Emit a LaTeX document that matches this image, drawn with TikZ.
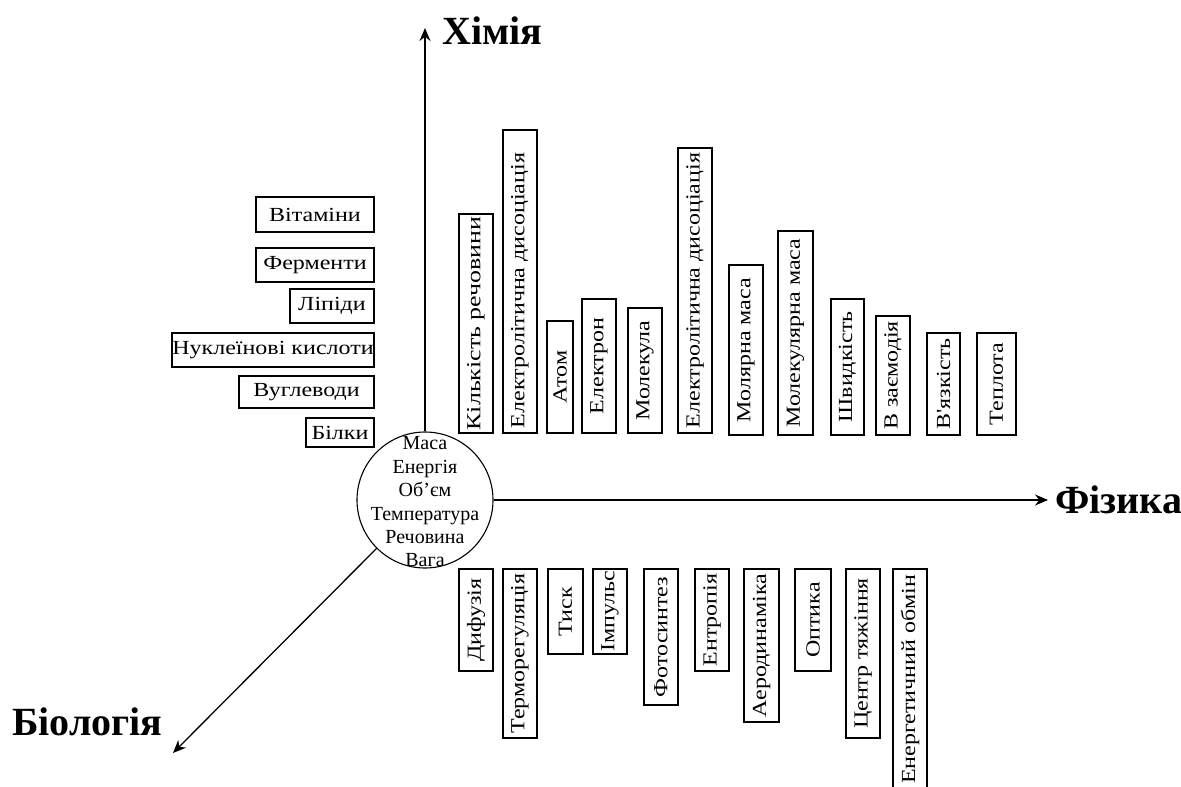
\documentclass[tikz,border=0pt]{standalone}
\usepackage{fontspec}
\setmainfont{Liberation Serif}
\newfontfamily\boxfont[FakeStretch=1.2]{Liberation Serif}
\usetikzlibrary{arrows.meta}
\tikzset{
  boxtxt/.style={font=\boxfont\fontsize{20}{24}\selectfont},
  hbox/.style={draw, line width=1.1pt, inner sep=0pt, boxtxt},
  vbox/.style={draw, line width=1.1pt, inner sep=0pt, rotate=90, boxtxt},
  axis/.style={line width=1.3pt, -{Stealth[length=13pt,width=11pt]}},
  lab/.style={font=\bfseries\fontsize{40}{48}\selectfont, inner sep=0pt, anchor=base west},
  centre/.style={circle, draw, line width=1.1pt, minimum size=136pt, inner sep=0pt},
  centretxt/.style={inner sep=0pt, align=center, font=\fontsize{20}{23.4}\selectfont},
}
\newcommand\hbx[6]{\node[hbox, minimum width={(#4)-(#2)}, minimum height={(#5)-(#3)}] (#1) at ({((#2)+(#4))/2},{((#3)+(#5))/2}) {#6};}
\newcommand\vbx[7][]{\node[vbox, minimum width={(#6)-(#4)}, minimum height={(#5)-(#3)}, #1] (#2) at ({((#3)+(#5))/2},{((#4)+(#6))/2}) {#7};}
\newcommand\lft[2]{\makebox[#1][l]{#2}}
\begin{document}
\begin{tikzpicture}[x=1pt,y=-1pt]
\useasboundingbox (0,0) rectangle (1181,787);
% centre
\node[centre] (c) at (425,500) {};
\node[centretxt] (ctext) at (425,502)
  {Маса\\Енергія\\Об’єм\\Температура\\Речовина\\Вага};
% axes
\coordinate (ytip) at (425,28);
\coordinate (xtip) at (1048,500);
\coordinate (ztip) at (173,753);
\draw[axis] (c.north) -- (ytip);
\draw[axis] (c.east) -- (xtip);
\draw[axis] (c.south west) -- (ztip);
\node[lab] (chem) at (442,44) {Хімія};
\node[lab] (phys) at (1055,513) {Фізика};
\node[lab] (bio) at (12,735) {Біологія};
% left boxes
\hbx{vit}{256}{197}{374}{232}{Вітаміни}
\hbx{ferm}{256}{248}{374}{282}{Ферменти}
\hbx{lip}{290}{289}{374}{323}{Ліпіди}
\hbx{nukl}{172}{333}{374}{367}{Нуклеїнові кислоти}
\hbx{vugl}{239}{376}{374}{408}{Вуглеводи}
\hbx{bilk}{306}{418}{374}{447}{Білки}
% top boxes
\vbx{kr}{459}{214}{493}{433}{\scalebox{1.08}[1]{Кількість речовини}}
\vbx{edA}{503}{130}{537}{433}{\lft{293pt}{Електролітична дисоціація}}
\vbx{atom}{547}{321}{573}{433}{Атом}
\vbx{elec}{582}{299}{616}{433}{Електрон}
\vbx{mol}{628}{308}{662}{433}{Молекула}
\vbx{edB}{678}{148}{712}{433}{\lft{275pt}{Електролітична дисоціація}}
\vbx{mm}{729}{265}{763}{435}{Молярна маса}
\vbx{mlm}{778}{231}{813}{435}{Молекулярна маса}
\vbx{shv}{831}{299}{864}{435}{Швидкість}
\vbx{vz}{876}{316}{910}{435}{В заємодія}
\vbx{vya}{927}{333}{960}{435}{В'язкість}
\vbx{tep}{977}{333}{1016}{435}{Теплота}
% bottom boxes
\vbx{dif}{459}{569}{493}{671}{Дифузія}
\vbx{term}{503}{569}{537}{738}{Терморегуляція}
\vbx{tysk}{548}{569}{583}{654}{Тиск}
\vbx{imp}{593}{569}{627}{654}{Імпульс}
\vbx{foto}{644}{569}{678}{705}{Фотосинтез}
\vbx{entr}{695}{569}{729}{671}{Ентропія}
\vbx{aero}{744}{569}{779}{722}{Аеродинаміка}
\vbx{opt}{795}{569}{831}{671}{Оптика}
\vbx{ctr}{846}{569}{880}{738}{Центр тяжіння}
\vbx{enob}{893}{569}{927}{790}{Енергетичний обмін}
\end{tikzpicture}
\end{document}
